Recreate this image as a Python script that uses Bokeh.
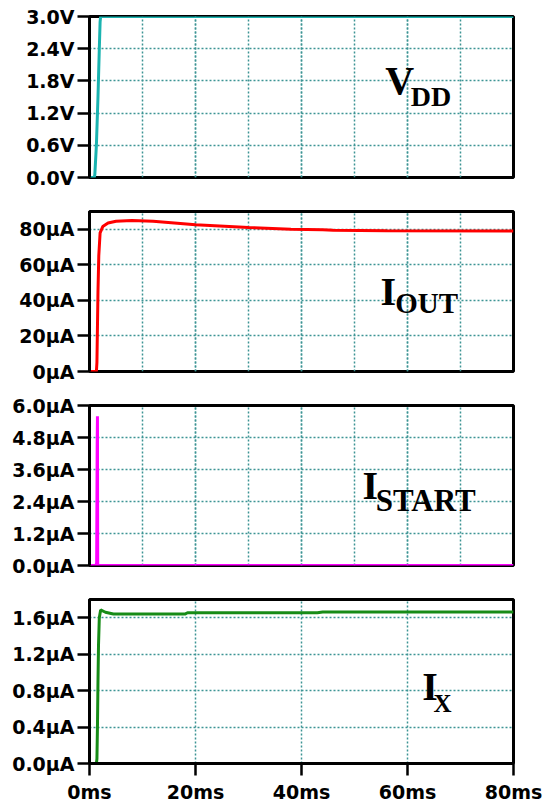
from bokeh.plotting import figure
from bokeh.layouts import column
from bokeh.models import Range1d, FixedTicker, Grid, Label
from bokeh.embed import file_html
from bokeh.resources import INLINE

# ---------------- data (time in ms) ----------------
vdd_t = [0, 0.9, 1.0, 1.3, 1.6, 1.85, 2.0, 2.1, 80]
vdd_v = [0, 0, 0.05, 0.6, 1.5, 2.4, 2.9, 3.0, 3.0]

iout_t = [0, 1.3, 1.4, 1.5, 1.6, 1.75, 2.0, 2.5, 3.5, 5, 8, 12, 20, 30, 38, 44, 46, 56, 80]
iout_v = [0, 0, 5, 25, 45, 65, 78, 81.5, 83.5, 84.5, 85, 84.5, 82.5, 81, 80, 79.8, 79.5, 79.2, 79]

istart_t = [0, 1.2, 1.35, 1.45, 1.5, 1.55, 1.7, 80]
istart_v = [0, 0, 0.1, 4.6, 5.6, 0.05, 0, 0]

ix_t = [0, 1.3, 1.4, 1.5, 1.6, 1.7, 1.85, 2.1, 3, 4.5, 18, 18.5, 43, 44, 80]
ix_v = [0, 0, 0.05, 0.4, 0.9, 1.3, 1.6, 1.685, 1.66, 1.64, 1.64, 1.655, 1.655, 1.662, 1.662]

x_ticks = [0, 20, 40, 60, 80]
x_labels = ["0ms", "20ms", "40ms", "60ms", "80ms"]

vdd_ticks = [0.0, 0.6, 1.2, 1.8, 2.4, 3.0]
vdd_labels = ["0.0V", "0.6V", "1.2V", "1.8V", "2.4V", "3.0V"]
iout_ticks = [0, 20, 40, 60, 80]
iout_labels = ["0µA", "20µA", "40µA", "60µA", "80µA"]
istart_ticks = [0.0, 1.2, 2.4, 3.6, 4.8, 6.0]
istart_labels = ["0.0µA", "1.2µA", "2.4µA", "3.6µA", "4.8µA", "6.0µA"]
ix_ticks = [0.0, 0.4, 0.8, 1.2, 1.6]
ix_labels = ["0.0µA", "0.4µA", "0.8µA", "1.2µA", "1.6µA"]

GRID = "#3d9494"
TICK_FONT = "DejaVu Sans"
SERIF = "Liberation Serif"

def panel(t, v, color, ymax, yticks, ylabels, fheight, top, bottom, show_x,
          name, sub, pos_main, pos_sub, size_main, size_sub):
    p = figure(frame_width=424, frame_height=fheight,
               output_backend="svg", toolbar_location=None,
               x_range=Range1d(0, 80), y_range=Range1d(0, ymax),
               x_axis_location="below" if show_x else None,
               min_border_left=89, min_border_right=30,
               min_border_top=top, min_border_bottom=bottom)
    p.outline_line_color = "black"
    p.outline_line_width = 3
    p.outline_line_alpha = 1.0
    p.background_fill_color = "white"
    p.border_fill_color = "white"

    yt = FixedTicker(ticks=yticks)
    p.yaxis.ticker = yt
    p.yaxis.major_label_overrides = dict(zip(yticks, ylabels))
    p.ygrid.ticker = yt
    xt = FixedTicker(ticks=x_ticks)
    if show_x:
        p.xaxis.ticker = xt
        p.xaxis.major_label_overrides = dict(zip(x_ticks, x_labels))
        p.xgrid.ticker = xt
    else:
        p.add_layout(Grid(dimension=0, ticker=xt))

    for ax in (p.yaxis + (p.xaxis if show_x else [])):
        ax.axis_line_color = "black"
        ax.axis_line_width = 3
        ax.major_tick_line_color = "black"
        ax.major_tick_line_width = 2.5
        ax.major_tick_out = 12
        ax.major_tick_in = 0
        ax.minor_tick_line_color = None
        ax.major_label_text_font = TICK_FONT
        ax.major_label_text_font_style = "bold"
        ax.major_label_text_font_size = "19px"
        ax.major_label_text_color = "black"
        ax.major_label_standoff = 3
    if show_x:
        p.xaxis.major_label_standoff = 5

    for g in p.grid:
        g.grid_line_color = GRID
        g.grid_line_dash = "2 2"
        g.grid_line_width = 1.5

    p.line(t, v, line_color=color, line_width=3)

    p.add_layout(Label(x=pos_main[0], y=pos_main[1], text=name,
                       text_font=SERIF, text_font_style="bold",
                       text_font_size=size_main, text_color="black"))
    p.add_layout(Label(x=pos_sub[0], y=pos_sub[1], text=sub,
                       text_font=SERIF, text_font_style="bold",
                       text_font_size=size_sub, text_color="black"))
    return p

p1 = panel(vdd_t, vdd_v, "#1ab3b0", 3, vdd_ticks, vdd_labels, 161, 16, 17, False,
           "V", "DD", (55.8, 1.38), (60.6, 1.22), "40px", "28px")
p2 = panel(iout_t, iout_v, "#ff0000", 90, iout_ticks, iout_labels, 160, 17, 17, False,
           "I", "OUT", (54.9, 32.6), (57.7, 29.8), "40px", "29px")
p3 = panel(istart_t, istart_v, "#ff00ff", 6, istart_ticks, istart_labels, 160, 17, 17, False,
           "I", "START", (51.5, 2.14), (54.0, 1.8), "40px", "31px")
p4 = panel(ix_t, ix_v, "#178c17", 1.8, ix_ticks, ix_labels, 164, 17, 36, True,
           "I", "X", (62.8, 0.6), (64.9, 0.505), "40px", "25px")

layout = column(p1, p2, p3, p4, spacing=0)

open("out.html", "w").write(file_html(layout, INLINE))
